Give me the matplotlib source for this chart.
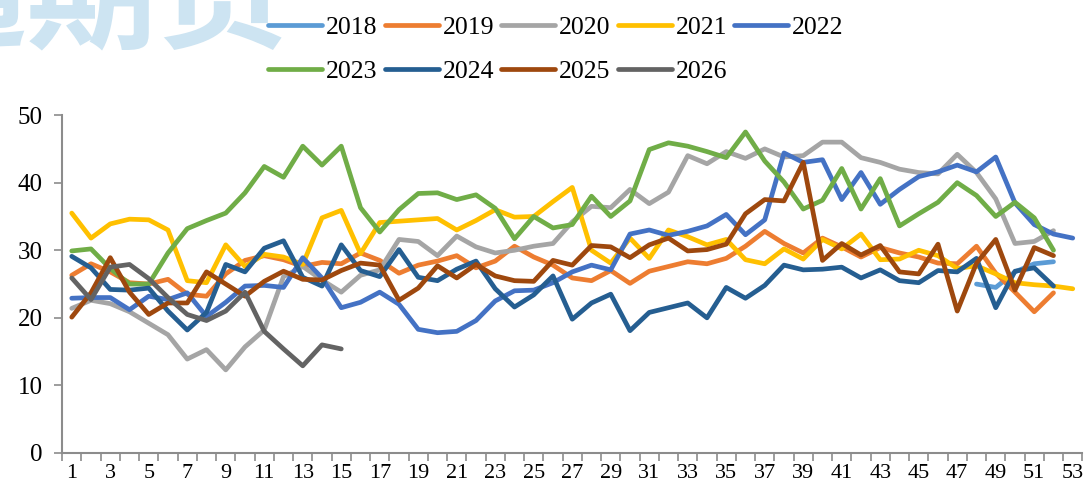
import numpy as np
import matplotlib
matplotlib.use("Agg")
import matplotlib.pyplot as plt

# ------------------ DATA ------------------
weeks = list(range(1, 54))
years = ["2018", "2019", "2020", "2021", "2022", "2023", "2024", "2025", "2026"]
colors = ["#5B9BD5", "#ED7D31", "#A5A5A5", "#FFC000", "#4472C4",
          "#70AD47", "#255E91", "#9E480E", "#636363"]

# 2018 only has the last few weeks
v2018 = [None] * 47 + [25.0, 24.5, 26.8, 28.0, 28.3, None]
v2019 = [26.3, 28.0, 26.8, 25.2, 25.0, 25.7, 23.5, 23.2, 26.5, 28.5,
         29.2, 28.6, 27.6, 28.2, 28.0, 29.6, 28.5, 26.6, 27.8, 28.4,
         29.2, 27.4, 28.4, 30.6, 29.0, 27.8, 25.9, 25.5, 27.0, 25.1,
         26.9, 27.6, 28.3, 28.0, 28.8, 30.6, 32.8, 31.0, 29.6, 31.8,
         30.5, 29.0, 30.4, 29.6, 29.0, 28.1, 28.0, 30.6, 26.6, 23.8,
         20.9, 23.7, None]
v2020 = [21.4, 22.6, 22.1, 20.9, 19.2, 17.5, 13.9, 15.3, 12.3, 15.7,
         18.2, 26.1, 27.6, 25.6, 23.8, 26.3, 27.1, 31.6, 31.3, 29.2,
         32.1, 30.5, 29.6, 30.0, 30.6, 31.0, 34.2, 36.5, 36.3, 39.0,
         36.9, 38.6, 44.0, 42.8, 44.6, 43.6, 45.0, 43.8, 44.0, 46.0,
         46.0, 43.7, 43.0, 42.0, 41.5, 41.3, 44.2, 41.5, 37.6, 31.0,
         31.3, 32.9, None]
v2021 = [35.5, 31.8, 33.9, 34.6, 34.5, 33.0, 25.5, 25.2, 30.8, 27.6,
         29.4, 29.0, 27.9, 34.8, 35.9, 29.5, 34.1, 34.3, 34.5, 34.7,
         33.0, 34.4, 36.0, 34.9, 35.0, 37.2, 39.3, 30.0, 28.1, 31.8,
         28.8, 33.0, 32.0, 30.8, 31.6, 28.6, 28.0, 30.2, 28.7, 31.6,
         30.2, 32.4, 28.6, 28.7, 30.0, 29.2, 27.3, 27.7, 26.5, 25.2,
         24.9, 24.7, 24.3]
v2022 = [22.9, 23.0, 23.0, 21.2, 23.2, 22.7, 23.7, 20.2, 22.3, 24.7,
         24.8, 24.5, 28.9, 25.9, 21.5, 22.3, 23.8, 22.0, 18.3, 17.8,
         18.0, 19.6, 22.5, 24.0, 24.1, 25.2, 26.8, 27.8, 27.1, 32.4,
         33.0, 32.2, 32.8, 33.6, 35.3, 32.3, 34.5, 44.4, 43.0, 43.4,
         37.5, 41.5, 36.8, 39.0, 40.9, 41.6, 42.6, 41.6, 43.8, 37.0,
         33.8, 32.4, 31.8]
v2023 = [29.9, 30.2, 27.3, 25.0, 25.0, 29.6, 33.2, 34.4, 35.5, 38.5,
         42.4, 40.8, 45.4, 42.6, 45.4, 36.3, 32.7, 36.0, 38.4, 38.5,
         37.5, 38.2, 36.2, 31.7, 35.0, 33.3, 33.8, 38.0, 35.0, 37.3,
         44.9, 45.9, 45.4, 44.6, 43.7, 47.5, 43.2, 40.1, 36.1, 37.4,
         42.1, 36.1, 40.6, 33.6, 35.4, 37.1, 40.0, 38.1, 35.0, 37.1,
         34.8, 30.0, None]
v2024 = [29.1, 27.4, 24.2, 24.1, 24.4, 21.0, 18.2, 20.8, 27.9, 26.8,
         30.3, 31.4, 26.0, 24.7, 30.8, 27.0, 26.1, 30.1, 26.0, 25.5,
         27.2, 28.4, 24.3, 21.6, 23.4, 26.2, 19.8, 22.2, 23.5, 18.1,
         20.8, 21.5, 22.2, 20.0, 24.5, 22.9, 24.8, 27.8, 27.1, 27.2,
         27.5, 25.9, 27.1, 25.5, 25.2, 27.0, 26.8, 28.8, 21.5, 26.9,
         27.4, 24.7, None]
v2025 = [20.1, 23.7, 28.9, 23.8, 20.5, 22.2, 22.2, 26.8, 25.0, 23.2,
         25.4, 26.9, 25.7, 25.6, 27.0, 28.1, 27.8, 22.6, 24.4, 27.7,
         25.9, 27.9, 26.2, 25.5, 25.4, 28.5, 27.8, 30.7, 30.5, 28.9,
         30.8, 31.8, 29.9, 30.1, 30.9, 35.4, 37.5, 37.3, 43.0, 28.5,
         31.0, 29.3, 30.7, 26.8, 26.5, 30.9, 21.0, 28.1, 31.6, 24.1,
         30.4, 29.2, None]
v2026 = [25.9, 22.7, 27.5, 27.9, 25.8, 23.0, 20.5, 19.6, 21.0, 23.8,
         18.0, 15.4, 12.9, 16.0, 15.4] + [None] * 38

series = [v2018, v2019, v2020, v2021, v2022, v2023, v2024, v2025, v2026]
xtick_labels = [str(w) for w in weeks[::2]]

# ------------------ PLOT ------------------
plt.rcParams["font.family"] = ["Liberation Serif", "DejaVu Serif"]

fig = plt.figure(figsize=(10.9, 4.94), dpi=100)
ax = fig.add_axes([0.057, 0.083, 0.936, 0.684])

handles = []
for name, vals, c in zip(years, series, colors):
    y = np.array([np.nan if v is None else v for v in vals], dtype=float)
    h, = ax.plot(weeks, y, color=c, lw=3.4, solid_joinstyle="round",
                 solid_capstyle="round", label=name)
    handles.append(h)

ax.set_xlim(0.5, 53.5)
ax.set_ylim(0, 50)
ax.set_yticks([0, 10, 20, 30, 40, 50])

# category axis: tick marks between weeks, labels on every other week
ax.set_xticks(np.arange(0.5, 54, 1))
ax.set_xticklabels([])
ax.set_xticks(weeks[::2], minor=True)
ax.set_xticklabels(xtick_labels, minor=True, fontsize=16)
ax.tick_params(axis="x", which="major", direction="out", length=6,
               color="#8c8c8c", width=1.2)
ax.tick_params(axis="x", which="minor", length=0, pad=8)
ax.tick_params(axis="y", direction="out", length=6, color="#8c8c8c",
               width=1.2, labelsize=18, pad=8)

for s in ["top", "right"]:
    ax.spines[s].set_visible(False)
for s in ["left", "bottom"]:
    ax.spines[s].set_color("#8c8c8c")
    ax.spines[s].set_linewidth(1.5)

# faint watermark at the top-left corner (cut off by the figure edge)
fig.text(-0.095, 0.923, "通期货", color="#cde4f2", fontsize=94,
         fontweight="bold", family=["Noto Sans CJK SC", "DejaVu Sans"],
         ha="left", va="baseline", zorder=0)

# legend rows: reorder so matplotlib's column filling reads row by row
order = [0, 5, 1, 6, 2, 7, 3, 8, 4]
fig.legend([handles[i] for i in order], [years[i] for i in order],
           ncol=5, loc="upper left", bbox_to_anchor=(0.239, 0.984),
           frameon=False, fontsize=18.5, handlelength=2.1, handletextpad=0.15,
           columnspacing=0.28, labelspacing=0.85, borderaxespad=0.0,
           borderpad=0.3)

fig.savefig("out.png", dpi=100)
